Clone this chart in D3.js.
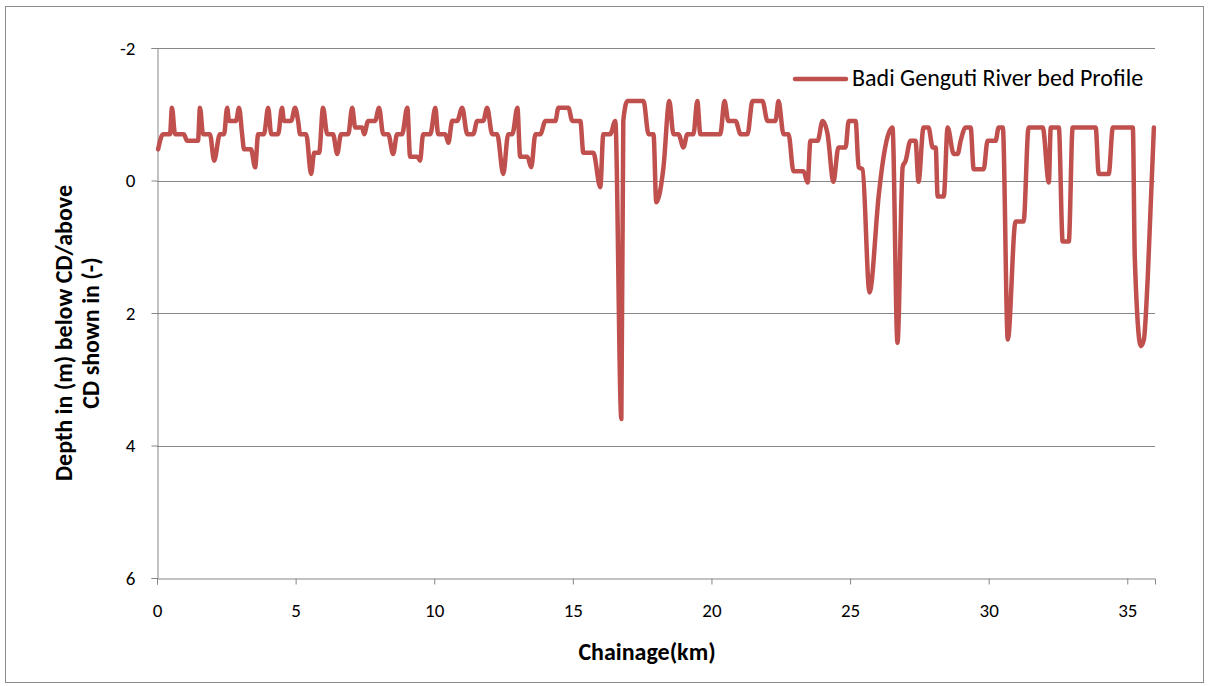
<!DOCTYPE html>
<html>
<head>
<meta charset="utf-8">
<script src="https://cdn.jsdelivr.net/npm/d3@7"></script>
<style>
  body { margin: 0; background: #fff; }
  text { font-family: Carlito, Lato, "Open Sans", sans-serif; }
</style>
</head>
<body>
<svg id="chart" width="1208" height="686"></svg>
<script>
// chainage (km) and bed depth (m, below CD positive)
var chainage = [
  0.04, 0.22, 0.47, 0.54, 0.65, 0.97, 1.08, 1.48, 1.55, 1.66, 1.91, 2.06, 2.27, 2.42, 2.53, 2.60, 2.85, 2.96,
  3.07, 3.14, 3.39, 3.54, 3.65, 3.86, 4.01, 4.12, 4.37, 4.51, 4.58, 4.84, 4.98, 5.09, 5.16, 5.38, 5.56, 5.67,
  5.85, 5.99, 6.14, 6.35, 6.50, 6.64, 6.90, 7.04, 7.15, 7.40, 7.47, 7.62, 7.87, 8.01, 8.16, 8.34, 8.52, 8.66,
  8.84, 9.03, 9.13, 9.39, 9.49, 9.60, 9.86, 10.04, 10.14, 10.40, 10.51, 10.65, 10.83, 11.01, 11.19, 11.41,
  11.55, 11.77, 11.91, 12.09, 12.27, 12.49, 12.67, 12.82, 13.00, 13.10, 13.36, 13.50, 13.65, 13.83, 14.01,
  14.37, 14.48, 14.84, 14.98, 15.27, 15.38, 15.74, 15.99, 16.10, 16.35, 16.53, 16.75, 16.82, 16.97, 17.55,
  17.73, 17.91, 18.01, 18.27, 18.48, 18.63, 18.81, 18.99, 19.13, 19.35, 19.49, 19.60, 20.32, 20.47, 20.61,
  20.87, 21.05, 21.30, 21.48, 21.84, 22.02, 22.31, 22.42, 22.60, 22.78, 22.96, 23.32, 23.47, 23.57, 23.83,
  24.01, 24.19, 24.40, 24.58, 24.84, 24.95, 25.20, 25.31, 25.45, 25.70, 26.03, 26.10, 26.53, 26.71, 26.90,
  27.00, 27.18, 27.36, 27.47, 27.65, 27.83, 27.98, 28.09, 28.16, 28.38, 28.52, 28.74, 28.88, 28.99, 29.17,
  29.35, 29.46, 29.82, 29.96, 30.25, 30.36, 30.51, 30.69, 30.97, 31.26, 31.44, 31.95, 32.17, 32.24, 32.53,
  32.67, 32.89, 33.03, 33.86, 33.97, 34.33, 34.48, 35.20, 35.27, 35.49, 35.60, 35.74, 35.96
];
var depth = [
  -0.47, -0.7, -0.7, -1.1, -0.7, -0.7, -0.6, -0.6, -1.1, -0.7, -0.7, -0.3, -0.7, -0.7, -1.1, -0.9, -0.9, -1.1,
  -0.7, -0.47, -0.47, -0.2, -0.7, -0.7, -1.1, -0.7, -0.7, -1.1, -0.9, -0.9, -1.1, -0.9, -0.7, -0.7, -0.1, -0.42,
  -0.42, -1.1, -0.7, -0.7, -0.4, -0.7, -0.7, -1.1, -0.8, -0.8, -0.7, -0.9, -0.9, -1.1, -0.7, -0.7, -0.4, -0.7,
  -0.7, -1.1, -0.36, -0.36, -0.3, -0.7, -0.7, -1.1, -0.7, -0.7, -0.57, -0.9, -0.9, -1.1, -0.7, -0.7,
  -0.9, -0.9, -1.1, -0.7, -0.7, -0.1, -0.7, -0.7, -1.1, -0.36, -0.36, -0.2, -0.7, -0.7, -0.9,
  -0.9, -1.1, -1.1, -0.9, -0.9, -0.42, -0.42, 0.1, -0.7, -0.7, -0.9, 3.6, -0.9, -1.2, -1.2,
  -0.7, -0.7, 0.33, -0.2, -1.2, -0.7, -0.7, -0.5, -0.7, -0.7, -1.2, -0.7, -0.7, -1.2, -0.9,
  -0.9, -0.7, -0.7, -1.2, -1.2, -0.9, -0.9, -1.2, -0.7, -0.7, -0.14, -0.14, 0.03, -0.6, -0.6,
  -0.9, -0.7, 0.02, -0.5, -0.5, -0.9, -0.9, -0.2, -0.17, 1.69, 0.24, -0.02, -0.8, 2.45, -0.21,
  -0.29, -0.6, -0.6, 0.02, -0.8, -0.8, -0.5, -0.5, 0.24, 0.24, -0.8, -0.4, -0.4, -0.6, -0.8,
  -0.8, -0.17, -0.17, -0.6, -0.6, -0.8, -0.8, 2.4, 0.62, 0.62, -0.8, -0.8, 0.03, -0.8, -0.8,
  0.92, 0.92, -0.8, -0.8, -0.1, -0.1, -0.8, -0.8, 1.15, 2.5, 2.4, 1.45, -0.8
];
var xTicks = [0, 5, 10, 15, 20, 25, 30, 35];
var yTicks = [-2, 0, 2, 4, 6];
var seriesName = "Badi Genguti River bed Profile";

var svg = d3.select("#chart"),
    margin = {top: 48, right: 53, bottom: 108, left: 157},
    width = 1208 - margin.left - margin.right,
    height = 686 - margin.top - margin.bottom,
    g = svg.append("g").attr("transform", "translate(" + margin.left + "," + margin.top + ")");

// outer chart border
svg.append("rect")
    .attr("x", 5.5).attr("y", 6.5)
    .attr("width", 1198).attr("height", 676)
    .attr("fill", "none")
    .attr("stroke", "#8c8c8c")
    .attr("stroke-width", 1);

var x = d3.scaleLinear().domain([0, 36]).range([0, width]),
    y = d3.scaleLinear().domain([-2, 6]).range([0, height]);

// gridlines
g.append("g")
  .selectAll("line")
  .data(yTicks.slice(0, -1))
  .enter().append("line")
    .attr("x1", 0).attr("x2", width)
    .attr("y1", function(d) { return Math.round(y(d)) + 0.5; })
    .attr("y2", function(d) { return Math.round(y(d)) + 0.5; })
    .attr("stroke", "#868686");

var xAxis = g.append("g")
    .attr("transform", "translate(0," + (Math.round(height) + 0.5) + ")")
    .call(d3.axisBottom(x).tickValues(xTicks).tickSizeOuter(0).tickSize(6).tickPadding(19));

var yAxis = g.append("g")
    .attr("transform", "translate(0.5,0)")
    .call(d3.axisLeft(y).tickValues(yTicks).tickSizeOuter(0).tickSize(6).tickPadding(16)
      .tickFormat(function(d) { return d; }));

[xAxis, yAxis].forEach(function(a) {
  a.select(".domain").attr("stroke", "#868686");
  a.selectAll(".tick line").attr("stroke", "#868686");
  a.selectAll(".tick text")
    .attr("fill", "#000")
    .style("font-size", "19px")
    .style("font-family", "Carlito, Lato, 'Open Sans', sans-serif");
});

var pts = chainage.map(function(c, i) { return {km: c, d: depth[i]}; });

var line = d3.line()
    .curve(d3.curveMonotoneX)
    .x(function(d) { return x(d.km); })
    .y(function(d) { return y(d.d); });

g.append("path")
    .datum(pts)
    .attr("fill", "none")
    .attr("stroke", "#C0504D")
    .attr("stroke-width", 4.5)
    .attr("stroke-linejoin", "round")
    .attr("stroke-linecap", "round")
    .attr("d", line);

// axis titles
svg.append("text")
    .attr("x", 647)
    .attr("y", 660)
    .attr("text-anchor", "middle")
    .attr("font-weight", "bold")
    .attr("font-size", 24)
    .text("Chainage(km)");

var yt = svg.append("text")
    .attr("transform", "translate(0,333) rotate(-90)")
    .attr("text-anchor", "middle")
    .attr("font-weight", "bold")
    .attr("font-size", 24);
yt.append("tspan").attr("x", 0).attr("y", 72).text("Depth in (m) below CD/above");
yt.append("tspan").attr("x", 0).attr("y", 99).text("CD shown in (-)");

// legend
var legend = svg.append("g").attr("transform", "translate(793,79)");
legend.append("line")
    .attr("x1", 2).attr("x2", 53)
    .attr("stroke", "#C0504D")
    .attr("stroke-width", 4.5)
    .attr("stroke-linecap", "round");
legend.append("text")
    .attr("x", 59)
    .attr("y", 7)
    .attr("font-size", 24)
    .text(seriesName);
</script>
</body>
</html>
